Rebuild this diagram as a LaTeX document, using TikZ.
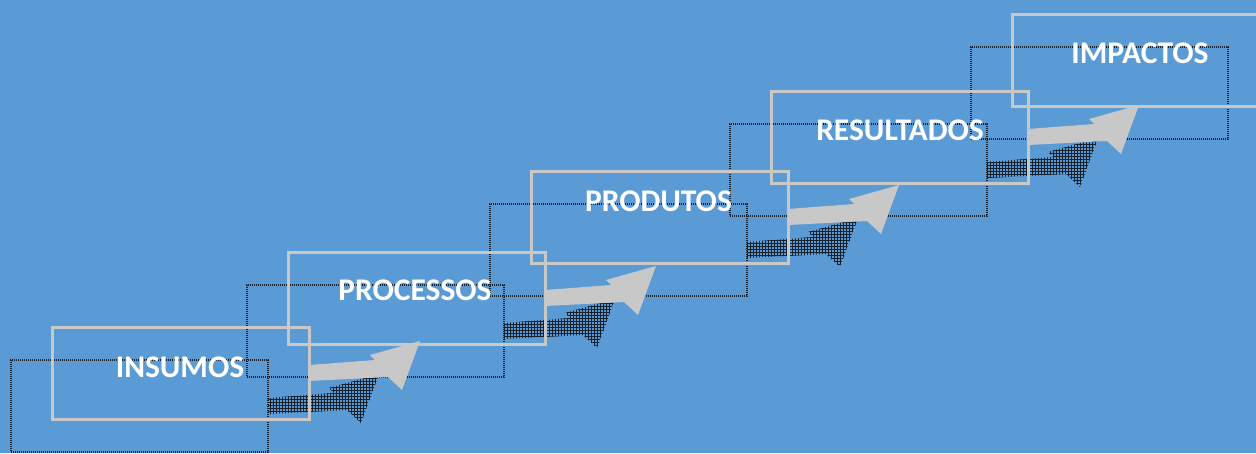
\documentclass[tikz,border=0pt]{standalone}
\usepackage{fontspec}
\setmainfont{Carlito}
\usetikzlibrary{patterns}
\definecolor{bg}{HTML}{5B9BD5}
\definecolor{lightg}{HTML}{C8C8C8}
\definecolor{shad}{HTML}{16202B}
\definecolor{shadfill}{HTML}{34536F}
\begin{document}
\begin{tikzpicture}[x=1pt,y=-1pt,
  stagebox/.style={draw=lightg, line width=3pt, minimum width=257pt, minimum height=92pt, anchor=north west, inner sep=0pt, outer sep=0pt},
  shadowbox/.style={draw=shad, line width=2.4pt, dash pattern=on 1.2pt off 0.8pt, minimum width=257pt, minimum height=92pt, anchor=north west, inner sep=0pt, outer sep=0pt},
  stagelabel/.style={text=white, font=\bfseries\fontsize{31.5}{36}\selectfont, inner sep=0pt, anchor=center},
  stagearrow/.style={fill=lightg},
  shadowarrow/.style={preaction={fill=shadfill}, pattern=grid, pattern color=shad},
  arrowshape/.pic={\path[pic actions] (0,38) -- (66,33) -- (61,28) -- (111,14) -- (93,63) -- (79,50) -- (0,54) -- cycle;}
]
\clip (0,0) rectangle (1256,453);
\fill[bg] (0,0) rectangle (1256,453);
% shadow boxes
\node[shadowbox] (s1) at (11,360) {};
\node[shadowbox] (s2) at (247,285) {};
\node[shadowbox] (s3) at (490,204) {};
\node[shadowbox] (s4) at (730,124) {};
\node[shadowbox] (s5) at (971,47) {};
% shadow arrows
\pic[shadowarrow] at (s1.north east) {arrowshape};
\pic[shadowarrow] at (s2.north east) {arrowshape};
\pic[shadowarrow] at (s3.north east) {arrowshape};
\pic[shadowarrow] at (s4.north east) {arrowshape};
% main boxes
\node[stagebox] (b1) at (52,327) {};
\node[stagebox] (b2) at (288,252) {};
\node[stagebox] (b3) at (531,171) {};
\node[stagebox] (b4) at (771,91) {};
\node[stagebox] (b5) at (1012,14) {};
% main arrows
\pic[stagearrow] at (b1.north east) {arrowshape};
\pic[stagearrow] at (b2.north east) {arrowshape};
\pic[stagearrow] at (b3.north east) {arrowshape};
\pic[stagearrow] at (b4.north east) {arrowshape};
% labels
\node[stagelabel] (l1) at (180,367) {INSUMOS};
\node[stagelabel] (l2) at (415,290) {PROCESSOS};
\node[stagelabel] (l3) at (658.5,201.5) {PRODUTOS};
\node[stagelabel] (l4) at (900,130.5) {RESULTADOS};
\node[stagelabel] (l5) at (1140,53) {IMPACTOS};
\end{tikzpicture}
\end{document}
